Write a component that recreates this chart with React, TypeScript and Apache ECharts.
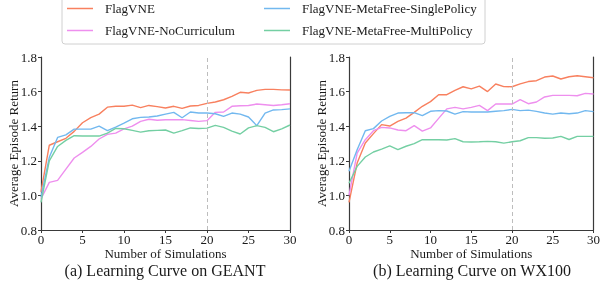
import React, { useEffect, useRef } from "react";
import * as echarts from "echarts";

const simulations = Array.from({ length: 31 }, (_, i) => i);
const seriesNames = [
  "FlagVNE",
  "FlagVNE-NoCurriculum",
  "FlagVNE-MetaFree-SinglePolicy",
  "FlagVNE-MetaFree-MultiPolicy",
];
const colors = ["#f8805f", "#ee8fee", "#72b8ef", "#74cfa3"];
const xTicks = [0, 5, 10, 15, 20, 25, 30];
const yTicks = [0.8, 1.0, 1.2, 1.4, 1.6, 1.8];
const captions = ["(a) Learning Curve on GEANT", "(b) Learning Curve on WX100"];

const geantFlag = [1.02, 1.29, 1.31, 1.33, 1.37, 1.42, 1.45, 1.47, 1.51, 1.515, 1.515, 1.522, 1.507, 1.52, 1.513, 1.505, 1.515, 1.503, 1.517, 1.52, 1.532, 1.54, 1.553, 1.572, 1.596, 1.592, 1.607, 1.613, 1.613, 1.61, 1.609];
const geantNoCur = [0.98, 1.075, 1.087, 1.152, 1.216, 1.249, 1.283, 1.326, 1.353, 1.36, 1.385, 1.4, 1.428, 1.44, 1.434, 1.437, 1.437, 1.438, 1.433, 1.428, 1.432, 1.48, 1.482, 1.515, 1.518, 1.52, 1.528, 1.524, 1.52, 1.524, 1.53];
const geantSingle = [0.99, 1.22, 1.335, 1.35, 1.383, 1.383, 1.383, 1.4, 1.374, 1.395, 1.418, 1.443, 1.451, 1.453, 1.459, 1.47, 1.48, 1.449, 1.482, 1.476, 1.476, 1.472, 1.457, 1.476, 1.47, 1.453, 1.403, 1.476, 1.494, 1.496, 1.5];
const geantMulti = [0.96, 1.2, 1.283, 1.318, 1.345, 1.343, 1.343, 1.343, 1.36, 1.387, 1.385, 1.376, 1.366, 1.374, 1.376, 1.378, 1.36, 1.374, 1.39, 1.387, 1.389, 1.405, 1.393, 1.372, 1.355, 1.39, 1.403, 1.393, 1.368, 1.385, 1.407];

const wxFlag = [0.96, 1.187, 1.303, 1.357, 1.409, 1.401, 1.428, 1.447, 1.48, 1.515, 1.542, 1.582, 1.582, 1.607, 1.628, 1.616, 1.632, 1.6, 1.644, 1.629, 1.628, 1.645, 1.658, 1.663, 1.684, 1.69, 1.673, 1.686, 1.692, 1.686, 1.68];
const wxNoCur = [1.0, 1.245, 1.322, 1.374, 1.393, 1.39, 1.378, 1.374, 1.403, 1.372, 1.39, 1.445, 1.5, 1.509, 1.5, 1.509, 1.52, 1.49, 1.528, 1.528, 1.528, 1.553, 1.53, 1.54, 1.569, 1.578, 1.578, 1.578, 1.576, 1.59, 1.586];
const wxSingle = [1.14, 1.264, 1.374, 1.386, 1.43, 1.457, 1.476, 1.478, 1.478, 1.461, 1.486, 1.49, 1.488, 1.47, 1.484, 1.482, 1.482, 1.482, 1.486, 1.49, 1.497, 1.49, 1.493, 1.486, 1.476, 1.47, 1.476, 1.472, 1.476, 1.49, 1.484];
const wxMulti = [1.07, 1.168, 1.222, 1.251, 1.268, 1.286, 1.265, 1.284, 1.299, 1.322, 1.322, 1.322, 1.32, 1.328, 1.31, 1.309, 1.31, 1.312, 1.31, 1.302, 1.31, 1.316, 1.334, 1.334, 1.33, 1.332, 1.341, 1.323, 1.341, 1.341, 1.341];

const panels = [
  [geantFlag, geantNoCur, geantSingle, geantMulti],
  [wxFlag, wxNoCur, wxSingle, wxMulti],
];

const FONT = "'Liberation Serif', 'Times New Roman', serif";
const AXIS_COLOR = "#3a3a3a";
const TEXT_COLOR = "#1a1a1a";

export default function App() {
  const ref = useRef<HTMLDivElement>(null);

  useEffect(() => {
    if (!ref.current) return;
    const chart = echarts.init(ref.current, undefined, { renderer: "svg" });

    const grids = [
      { left: 41, top: 57, width: 249, height: 173 },
      { left: 349, top: 57, width: 247, height: 173 },
    ];

    const xAxes = grids.map((_, gi) => ({
      type: "value",
      gridIndex: gi,
      min: xTicks[0],
      max: xTicks[xTicks.length - 1],
      interval: 5,
      name: "Number of Simulations",
      nameLocation: "middle",
      nameGap: 17,
      nameMoveOverlap: false,
      nameTextStyle: { fontFamily: FONT, fontSize: 13, lineHeight: 13, color: TEXT_COLOR },
      axisLine: { show: true, lineStyle: { color: AXIS_COLOR, width: 1.2 } },
      axisTick: { show: true, length: 3, lineStyle: { color: AXIS_COLOR } },
      axisLabel: { fontFamily: FONT, fontSize: 13, lineHeight: 13, color: TEXT_COLOR, margin: 3 },
      splitLine: { show: false },
    }));

    const yAxes: any[] = [];
    grids.forEach((_, gi) => {
      yAxes.push({
        type: "value",
        gridIndex: gi,
        min: yTicks[0],
        max: yTicks[yTicks.length - 1],
        interval: 0.2,
        name: "Average Episode Return",
        nameLocation: "middle",
        nameGap: 21,
        nameMoveOverlap: false,
        nameTextStyle: { fontFamily: FONT, fontSize: 13, color: TEXT_COLOR },
        axisLine: { show: true, lineStyle: { color: AXIS_COLOR, width: 1.2 } },
        axisTick: { show: true, length: 3, lineStyle: { color: AXIS_COLOR } },
        axisLabel: {
          fontFamily: FONT,
          fontSize: 13,
          color: TEXT_COLOR,
          margin: 4,
          formatter: (v: number) => v.toFixed(1),
        },
        splitLine: { show: false },
      });
      yAxes.push({
        type: "value",
        gridIndex: gi,
        position: "right",
        min: yTicks[0],
        max: yTicks[yTicks.length - 1],
        interval: 0.2,
        axisLine: { show: true, lineStyle: { color: AXIS_COLOR, width: 1.2 } },
        axisTick: { show: false },
        axisLabel: { show: false },
        splitLine: { show: false },
      });
    });

    const series: any[] = [];
    panels.forEach((panel, gi) => {
      panel.forEach((vals, si) => {
        series.push({
          type: "line",
          name: seriesNames[si],
          xAxisIndex: gi,
          yAxisIndex: gi * 2,
          symbol: "none",
          data: simulations.map((x, i) => [x, vals[i]]),
          lineStyle: { color: colors[si], width: 1.4 },
          itemStyle: { color: colors[si] },
          z: 3,
          markLine:
            si === 0
              ? {
                  silent: true,
                  symbol: ["none", "none"],
                  label: { show: false },
                  lineStyle: { type: [4, 3], color: "#bdbdbd", width: 1 },
                  data: [{ xAxis: 20 }],
                }
              : undefined,
        });
      });
    });

    const legendBase = {
      orient: "vertical",
      top: 1,
      padding: 0,
      icon: "rect",
      itemWidth: 26,
      itemHeight: 1.5,
      itemGap: 7,
      textStyle: {
        fontFamily: FONT,
        fontSize: 13,
        lineHeight: 15,
        color: TEXT_COLOR,
        padding: [0, 0, 0, 7],
      },
    };

    chart.setOption({
      animation: false,
      grid: grids,
      xAxis: xAxes,
      yAxis: yAxes,
      legend: [
        { ...legendBase, left: 67, data: [seriesNames[0], seriesNames[1]] },
        { ...legendBase, left: 264, data: [seriesNames[2], seriesNames[3]] },
      ],
      graphic: [
        {
          type: "rect",
          z: -1,
          shape: { x: 62, y: -10, width: 423, height: 54, r: 3 },
          style: { fill: "#fff", stroke: "#d0d0d0", lineWidth: 1 },
        },
        ...captions.map((c, i) => ({
          type: "text",
          x: i === 0 ? 165 : 472,
          y: 270,
          style: {
            text: c,
            align: "center",
            verticalAlign: "middle",
            fontFamily: FONT,
            fontSize: 16,
            fill: TEXT_COLOR,
          },
        })),
      ],
      series,
    });

    return () => chart.dispose();
  }, []);

  return (
    <div
      ref={ref}
      style={{ position: "fixed", left: 0, top: 0, width: 603, height: 285 }}
    />
  );
}
